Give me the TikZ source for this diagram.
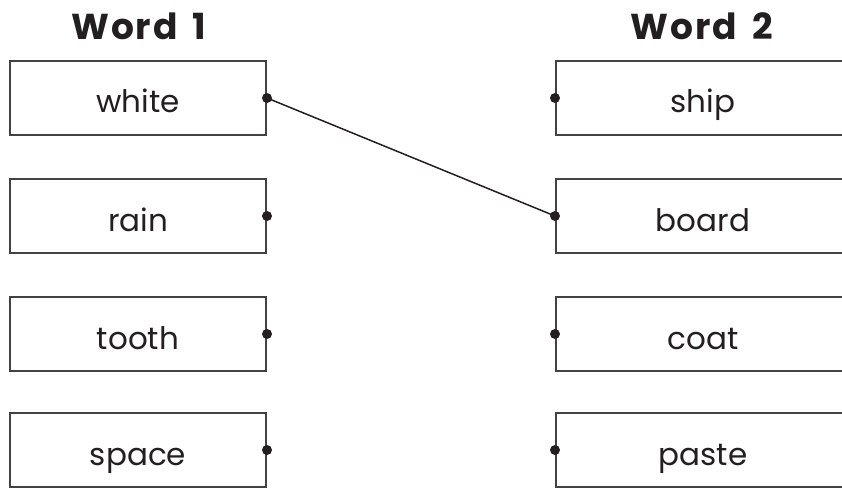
\documentclass[tikz,border=0pt]{standalone}
\usepackage{fontspec}
\setmainfont{Poppins}
\definecolor{ink}{HTML}{231F20}
\begin{document}
\begin{tikzpicture}[x=1pt,y=-1pt,
  wordbox/.style={draw=ink!85, line width=2pt, rectangle, minimum height=74pt, inner sep=0pt, text height=30pt, text depth=0pt, text=ink, font=\fontsize{31}{36}\selectfont},
  leftbox/.style={wordbox, minimum width=256pt},
  rightbox/.style={wordbox, minimum width=294pt},
  title/.style={anchor=base, text=ink, font=\fontsize{36}{40}\selectfont\bfseries\addfontfeature{LetterSpace=5}, inner sep=0pt},
  dotmark/.style={circle, fill=ink, inner sep=0pt, minimum size=10pt},
  link/.style={draw=ink, line width=1.5pt}]
\useasboundingbox (0,0) rectangle (842,489);
\clip (0,0) rectangle (842,489);
\node[title] (t1) at (139,40) {Word\hspace{6pt} 1};
\node[title] (t2) at (702,40) {Word\hspace{6pt} 2};
\node[leftbox] (l1) at (138,98) {white};
\node[leftbox] (l2) at (138,216) {rain};
\node[leftbox] (l3) at (138,334) {tooth};
\node[leftbox] (l4) at (138,450) {space};
\node[rightbox] (r1) at (703,98) {ship};
\node[rightbox] (r2) at (703,216) {board};
\node[rightbox] (r3) at (703,334) {coat};
\node[rightbox] (r4) at (703,450) {paste};
\foreach \n in {l1,l2,l3,l4}{\node[dotmark] (d\n) at (\n.east) {};}
\foreach \n in {r1,r2,r3,r4}{\node[dotmark] (d\n) at (\n.west) {};}
\draw[link] (dl1.center) -- (dr2.center);
\end{tikzpicture}
\end{document}
